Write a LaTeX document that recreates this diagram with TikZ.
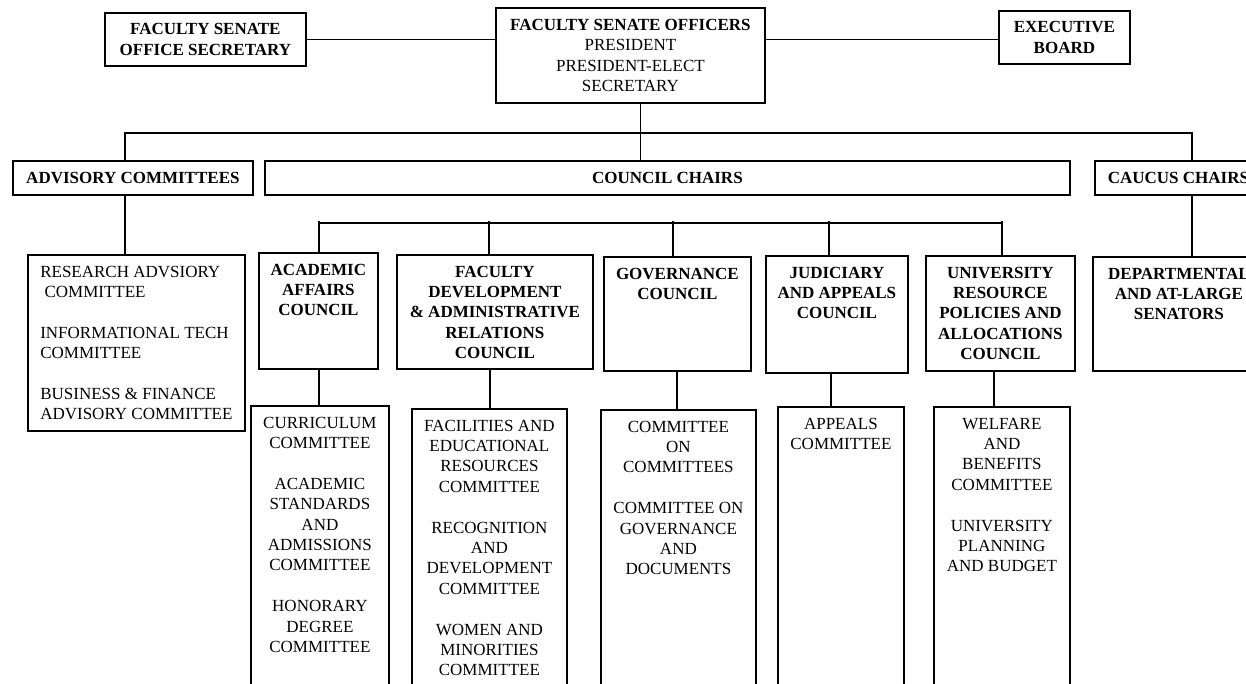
\documentclass[tikz,border=0pt]{standalone}
\usepackage{fontspec}
\setmainfont{Liberation Serif}
\usepackage{tikz}
\newcommand{\chartfont}{\fontsize{17}{20.4}\selectfont}
\tikzset{
    box/.style={draw, line width=1.8pt, inner sep=0pt, anchor=north west, align=center},
    hd/.style={font=\chartfont\bfseries},
    lbl/.style={anchor=north, align=center, inner sep=0pt, yshift=-11.7pt},
    link/.style={line width=1.5pt},
}
\begin{document}
\begin{tikzpicture}[x=1pt, y=-1pt, font=\chartfont]
    \useasboundingbox (0,0) rectangle (1246,684);
    \clip (0,0) rectangle (1246,684);
    \fill[white] (0,0) rectangle (1246,684);

    \node[box, hd, minimum width=201pt, minimum height=53pt] (sec) at (104,12) {FACULTY SENATE\\OFFICE SECRETARY};
    \node[box, minimum width=269pt, minimum height=95pt] (off) at (495,7) {\textbf{FACULTY SENATE OFFICERS}\\PRESIDENT\\PRESIDENT-ELECT\\SECRETARY};
    \node[box, hd, minimum width=131pt, minimum height=53pt] (exe) at (998,10) {EXECUTIVE\\BOARD};

    \node[box, hd, minimum width=240pt, minimum height=34pt] (adv) at (12,160) {ADVISORY COMMITTEES};
    \node[box, hd, minimum width=805pt, minimum height=34pt] (cch) at (264,160) {COUNCIL CHAIRS};
    \node[box, hd, minimum width=167pt, minimum height=34pt] (cau) at (1094,160) {CAUCUS CHAIRS};

    \node[box, align=left, minimum width=217pt, minimum height=176pt] (res) at (27,254) {RESEARCH ADVSIORY\\\ COMMITTEE\\[20.4pt]INFORMATIONAL TECH\\COMMITTEE\\[20.4pt]BUSINESS \& FINANCE\\ADVISORY COMMITTEE};

    \node[box, minimum width=119pt, minimum height=116pt, label={[lbl, hd]north:{ACADEMIC\\AFFAIRS\\COUNCIL}}] (aac) at (258,252) {};
    \node[box, minimum width=196pt, minimum height=114pt, label={[lbl, hd]north:{FACULTY\\DEVELOPMENT\\\& ADMINISTRATIVE\\RELATIONS\\COUNCIL}}] (fdc) at (396,254) {};
    \node[box, minimum width=147pt, minimum height=114pt, label={[lbl, hd]north:{GOVERNANCE\\COUNCIL}}] (gvc) at (603,256) {};
    \node[box, minimum width=142pt, minimum height=117pt, label={[lbl, hd]north:{JUDICIARY\\AND APPEALS\\COUNCIL}}] (jac) at (765,255) {};
    \node[box, minimum width=149pt, minimum height=115pt, label={[lbl, hd]north:{UNIVERSITY\\RESOURCE\\POLICIES AND\\ALLOCATIONS\\COUNCIL}}] (urc) at (925,255) {};
    \node[box, minimum width=172pt, minimum height=114pt, label={[lbl, hd]north:{DEPARTMENTAL\\AND AT-LARGE\\SENATORS}}] (dep) at (1092,256) {};

    \node[box, minimum width=138pt, minimum height=300pt, label={[lbl]north:{CURRICULUM\\COMMITTEE\\[20.4pt]ACADEMIC\\STANDARDS\\AND\\ADMISSIONS\\COMMITTEE\\[20.4pt]HONORARY\\DEGREE\\COMMITTEE}}] (aco) at (250,405) {};
    \node[box, minimum width=155pt, minimum height=300pt, label={[lbl]north:{FACILITIES AND\\EDUCATIONAL\\RESOURCES\\COMMITTEE\\[20.4pt]RECOGNITION\\AND\\DEVELOPMENT\\COMMITTEE\\[20.4pt]WOMEN AND\\MINORITIES\\COMMITTEE}}] (fco) at (411,408) {};
    \node[box, minimum width=155pt, minimum height=300pt, label={[lbl]north:{COMMITTEE\\ON\\COMMITTEES\\[20.4pt]COMMITTEE ON\\GOVERNANCE\\AND\\DOCUMENTS}}] (gco) at (600,409) {};
    \node[box, minimum width=126pt, minimum height=300pt, label={[lbl]north:{APPEALS\\COMMITTEE}}] (jco) at (777,406) {};
    \node[box, minimum width=136pt, minimum height=300pt, label={[lbl]north:{WELFARE\\AND\\BENEFITS\\COMMITTEE\\[20.4pt]UNIVERSITY\\PLANNING\\AND BUDGET}}] (uco) at (933,406) {};

    \coordinate (bl) at (125,133);
    \coordinate (br) at (1192,133);

    \draw[link] (sec.east) -- (sec.east -| off.west);
    \draw[link] (off.east |- sec.east) -- (exe.west |- sec.east);
    \draw[link] ([xshift=10pt]off.south) -- ([xshift=10pt]off.south |- cch.north);
    \draw[link] (bl |- adv.north) -- (bl) -- (br) -- (br |- cau.north);
    \draw[link] (bl |- adv.south) -- (bl |- res.north);
    \draw[link] (br |- cau.south) -- (br |- dep.north);
    \draw[link] (319,223) -- (1002,223);
    \foreach \n/\x in {aac/319, fdc/489, gvc/673, jac/829, urc/1002}
        \draw[link] (\x,221) -- (\x,0 |- \n.north);
    \foreach \a/\b/\x in {aac/aco/319, fdc/fco/490, gvc/gco/677, jac/jco/831, urc/uco/994}
        \draw[link] (\x,0 |- \a.south) -- (\x,0 |- \b.north);
\end{tikzpicture}
\end{document}
